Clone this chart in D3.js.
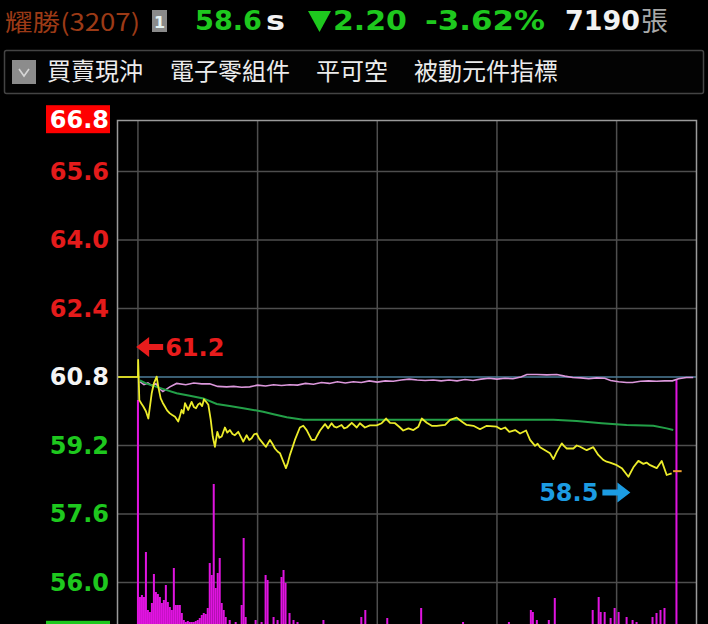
<!DOCTYPE html>
<html><head><meta charset="utf-8">
<script src="https://cdn.jsdelivr.net/npm/d3@7"></script>
<style>body{margin:0;background:#000;overflow:hidden}</style>
</head><body><svg id="c" width="708" height="624"></svg>
<script>
// ---------- data ----------
const stockName = "耀勝(3207)";
const lastPrice = "58.6";
const change = "2.20";
const changePct = "-3.62%";
const volumeTotal = "7190";
const tabs = ["買賣現沖", "電子零組件", "平可空", "被動元件指標"];

const refPrice = 60.8;
const limitUp = 66.8;
const limitDown = 54.8;
const yTicks = [66.8, 65.6, 64.0, 62.4, 60.8, 59.2, 57.6, 56.0];
const gridMinutes = [0, 60, 120, 180, 240];   // 9:00 .. 13:00
const preOpenMinutes = [-10.5, 0];
const preOpenValues = [60.8, 60.8];

const priceMinutes = [0, 0.1, 0.7, 1.7, 2.7, 4.0, 5.2, 6.9, 8.0, 9.4, 10.2, 11.4, 12.4, 13.5, 14.6, 16.0, 17.2, 18.6, 20.2, 21.0, 21.9, 22.8, 23.6, 25.2, 26.0, 26.9, 28.0, 29.1, 30.2, 31.1, 32.2, 33.1, 34.2, 35.3, 36.5, 37.5, 38.0, 38.6, 39.8, 40.8, 42.0, 43.6, 44.8, 46.1, 47.4, 48.6, 50.3, 51.6, 52.8, 54.5, 55.8, 57.0, 58.2, 59.5, 60.8, 62.0, 63.2, 64.2, 66.2, 67.4, 68.7, 70.0, 71.2, 72.9, 74.2, 75.2, 76.2, 77.5, 78.7, 81.2, 82.9, 84.6, 87.1, 88.8, 90.0, 91.3, 93.8, 95.4, 97.1, 98.4, 99.6, 102.1, 103.4, 104.7, 107.2, 109.7, 111.3, 113.8, 116.3, 119.7, 122.2, 124.4, 126.4, 128.9, 131.4, 133.0, 135.6, 138.1, 140.6, 142.3, 144.8, 147.3, 149.8, 154.0, 156.5, 159.8, 162.3, 164.8, 168.2, 171.5, 174.9, 179.9, 182.0, 184.1, 186.2, 189.1, 191.6, 194.6, 196.6, 199.1, 200.4, 201.6, 204.1, 206.6, 208.3, 210.0, 212.5, 213.8, 215.0, 218.3, 220.0, 221.7, 225.0, 228.3, 230.8, 233.4, 235.0, 236.7, 240.1, 242.6, 245.9, 248.4, 250.9, 253.4, 255.0, 256.8, 260.1, 262.6, 265.1, 267.6];
const priceValues = [60.8, 61.2, 60.26, 60.18, 60.11, 60.0, 59.83, 60.42, 60.65, 60.81, 60.57, 60.30, 60.20, 60.11, 60.02, 59.95, 59.91, 59.87, 59.76, 59.88, 60.03, 59.95, 60.19, 60.03, 60.12, 60.22, 60.10, 60.07, 60.16, 60.19, 60.12, 60.28, 60.22, 60.15, 59.80, 59.41, 59.30, 59.17, 59.52, 59.38, 59.41, 59.62, 59.50, 59.56, 59.47, 59.44, 59.52, 59.40, 59.29, 59.44, 59.33, 59.37, 59.46, 59.48, 59.36, 59.29, 59.22, 59.17, 59.33, 59.24, 59.13, 59.06, 59.02, 58.82, 58.67, 58.80, 58.98, 59.16, 59.33, 59.62, 59.66, 59.56, 59.33, 59.33, 59.44, 59.55, 59.70, 59.60, 59.72, 59.64, 59.62, 59.68, 59.60, 59.62, 59.73, 59.62, 59.72, 59.62, 59.67, 59.67, 59.72, 59.83, 59.73, 59.72, 59.62, 59.55, 59.60, 59.56, 59.64, 59.83, 59.73, 59.66, 59.66, 59.68, 59.80, 59.85, 59.76, 59.68, 59.66, 59.58, 59.66, 59.64, 59.58, 59.62, 59.52, 59.56, 59.48, 59.55, 59.33, 59.19, 59.24, 59.16, 59.09, 59.02, 58.88, 59.05, 59.25, 59.18, 59.13, 59.13, 59.20, 59.17, 59.09, 59.16, 58.98, 58.86, 58.82, 58.80, 58.74, 58.67, 58.47, 58.69, 58.84, 58.77, 58.80, 58.74, 58.67, 58.84, 58.51, 58.55];
const closeMinutes = [268.3, 272.6];
const closeValues = [58.6, 58.6];

const vwapMinutes = [1, 4, 9.4, 14, 19.4, 26, 32.8, 39.5, 46, 52.8, 62.8, 68, 74.6, 82.9, 103, 130, 151.5, 180, 208.3, 220, 232.5, 245, 258.4, 265.1, 268.4];
const vwapValues = [60.72, 60.65, 60.57, 60.50, 60.42, 60.36, 60.30, 60.17, 60.12, 60.07, 59.99, 59.93, 59.86, 59.80, 59.80, 59.80, 59.80, 59.80, 59.80, 59.77, 59.72, 59.68, 59.66, 59.60, 59.56];

const pinkMinutes = [1, 3, 5, 7, 9, 11, 12.5, 16, 19.4, 24, 28, 32, 36, 40, 44.5, 48, 52, 56, 60, 64, 68, 72, 76, 80, 84, 88, 92, 96, 100, 104, 108, 112, 116, 120, 124, 128, 132, 136, 140, 144, 148, 152, 156, 160, 164, 168, 172, 176, 180, 184, 188, 192, 195, 200, 205, 210, 214, 218, 222, 226, 230, 234, 237, 241, 245, 248, 252, 256, 260, 264, 268, 271, 275, 278.4];
const pinkValues = [60.69, 60.62, 60.66, 60.60, 60.64, 60.52, 60.46, 60.57, 60.65, 60.62, 60.66, 60.64, 60.64, 60.58, 60.57, 60.58, 60.56, 60.57, 60.61, 60.59, 60.62, 60.60, 60.62, 60.61, 60.65, 60.63, 60.67, 60.65, 60.69, 60.66, 60.69, 60.67, 60.71, 60.68, 60.71, 60.70, 60.73, 60.75, 60.73, 60.72, 60.73, 60.71, 60.73, 60.71, 60.74, 60.72, 60.75, 60.77, 60.75, 60.77, 60.76, 60.80, 60.86, 60.86, 60.85, 60.86, 60.82, 60.79, 60.78, 60.76, 60.78, 60.77, 60.72, 60.69, 60.67, 60.67, 60.70, 60.71, 60.70, 60.71, 60.71, 60.76, 60.79, 60.79];

const volMinutes = [0,1,2,3,4,5,6,7,8,9,10,11,12,13,14,15,16,17,18,19,20,21,22,23,24,25,26,27,28,29,30,31,32,33,34,35,36,37,38,39,40,41,42,43,44,46,49,52,53,54,59,62,64,65,68,70,72,73,74,76,78,80,93,112,114,125,142,163,186,197,198,200,206,209,228,231,232,234,237,239,241,245,248,250,258,260,262,264,270];
const volValues = [480,86,90,86,176,60,56,74,132,96,92,86,74,80,110,76,66,60,144,70,70,70,54,40,36,38,36,36,36,38,40,44,50,54,52,64,154,130,312,104,134,164,74,60,46,40,36,70,204,46,40,36,130,120,46,40,126,140,114,54,40,36,40,46,60,44,64,36,36,60,56,40,40,84,60,86,56,56,44,64,56,46,40,36,46,54,60,64,520];

const highLabel = {minute: 0.1, value: 61.2, text: "61.2"};
const lowLabel = {minute: 245.9, value: 58.5, text: "58.5"};

// ---------- chart ----------
const svg = d3.select("#c");
svg.append("rect").attr("width", 708).attr("height", 624).attr("fill", "#000");

const x = d3.scaleLinear().domain([-10.5, 280.3]).range([117, 697]);
const y = d3.scaleLinear().domain([54.8, 66.8]).range([633.8, 120.2]);
const yV = d3.scaleLinear().domain([0, 520]).range([640, 380]);

// header row 1
const hdr = svg.append("g");
hdr.append("text").attr("x", 5).attr("y", 31).text(stockName)
  .attr("fill", "#9c3a16").attr("font-family", "'Noto Sans CJK TC'").attr("font-size", 24)
  .attr("textLength", 135).attr("lengthAdjust", "spacingAndGlyphs");
hdr.append("rect").attr("x", 152).attr("y", 10).attr("width", 15).attr("height", 22).attr("fill", "#8a8a8a");
hdr.append("text").attr("x", 159.5).attr("y", 28).attr("text-anchor", "middle").text("1")
  .attr("fill", "#e6f4f4").attr("font-family", "DejaVu Sans").attr("font-weight", "bold").attr("font-size", 16);
const big = (t, xx, col, w) => hdr.append("text").attr("x", xx).attr("y", 30).text(t)
  .attr("fill", col).attr("font-family", "DejaVu Sans").attr("font-weight", "bold").attr("font-size", 27)
  .attr("textLength", w).attr("lengthAdjust", "spacingAndGlyphs");
big(lastPrice, 195, "#1ec81e", 67);
big("s", 266, "#f2f2f2", 19);
hdr.append("path").attr("d", "M308,11 L331,11 L319.5,32 Z").attr("fill", "#1ec81e");
big(change, 333, "#1ec81e", 74);
big(changePct, 425, "#1ec81e", 120);
big(volumeTotal, 565, "#f2f2f2", 75);
hdr.append("text").attr("x", 641).attr("y", 31).text("張")
  .attr("fill", "#a8a8a8").attr("font-family", "'Noto Sans CJK TC'").attr("font-size", 27);

// header row 2
svg.append("rect").attr("x", 4.5).attr("y", 50.5).attr("width", 699).attr("height", 43)
  .attr("fill", "#030303").attr("stroke", "#444").attr("stroke-width", 1.5).attr("rx", 2);
svg.append("rect").attr("x", 12).attr("y", 60).attr("width", 24).attr("height", 24).attr("fill", "#8c8c8c");
svg.append("path").attr("d", "M19,69 L24,76 L29,69").attr("fill", "none").attr("stroke", "#d6d6d6").attr("stroke-width", 1.6);
const tabX = [47, 170, 316, 414];
svg.selectAll("text.tab").data(tabs).join("text").attr("class", "tab")
  .attr("x", (d, i) => tabX[i]).attr("y", 80).text(d => d)
  .attr("fill", "#ececec").attr("font-family", "'Noto Sans CJK TC'").attr("font-size", 24);

// grid
const grid = svg.append("g");
grid.selectAll("line.h").data(yTicks.filter(v => v !== limitUp && v !== refPrice)).join("line")
  .attr("x1", 117).attr("x2", 697).attr("y1", d => y(d)).attr("y2", d => y(d))
  .attr("stroke", "#4e4e4e").attr("stroke-width", 1.5);
grid.selectAll("line.v").data(gridMinutes).join("line")
  .attr("x1", d => x(d)).attr("x2", d => x(d)).attr("y1", 120).attr("y2", 624)
  .attr("stroke", "#4e4e4e").attr("stroke-width", 1.5);
grid.append("line").attr("x1", x(0)).attr("x2", 697).attr("y1", y(refPrice)).attr("y2", y(refPrice))
  .attr("stroke", "#4c7c98").attr("stroke-width", 1.5);

// volume bars
const vol = d3.zip(volMinutes, volValues);
svg.append("g").selectAll("rect").data(vol).join("rect")
  .attr("x", d => x(d[0]) - 1).attr("width", 2)
  .attr("y", d => yV(d[1])).attr("height", d => yV(0) - yV(d[1]))
  .attr("fill", "#e014e0");

// lines
const line = d3.line().x(d => x(d[0])).y(d => y(d[1]));
svg.append("path").datum(d3.zip(pinkMinutes, pinkValues)).attr("d", line)
  .attr("fill", "none").attr("stroke", "#dc98dc").attr("stroke-width", 1.6);
svg.append("path").datum(d3.zip(vwapMinutes, vwapValues)).attr("d", line)
  .attr("fill", "none").attr("stroke", "#23a048").attr("stroke-width", 2);
svg.append("path").datum(d3.zip(preOpenMinutes, preOpenValues)).attr("d", line)
  .attr("fill", "none").attr("stroke", "#ecec2a").attr("stroke-width", 1.8);
svg.append("path").datum(d3.zip(priceMinutes, priceValues)).attr("d", line)
  .attr("fill", "none").attr("stroke", "#ecec2a").attr("stroke-width", 1.8).attr("stroke-linejoin", "round");
svg.append("path").datum(d3.zip(closeMinutes, closeValues)).attr("d", line)
  .attr("fill", "none").attr("stroke", "#f0a030").attr("stroke-width", 2);

// frame
svg.append("path").attr("d", "M117.5,624 L117.5,120.5 L696.5,120.5 L696.5,624")
  .attr("fill", "none").attr("stroke", "#9a9a9a").attr("stroke-width", 1.5);

// y axis labels
const tickColor = v => v === limitUp ? "#ffffff" : v > refPrice ? "#e41b1b" : v === refPrice ? "#f4f4f4" : "#1ec81e";
svg.append("rect").attr("x", 46).attr("y", y(limitUp) - 15).attr("width", 64).attr("height", 28).attr("fill", "#ff0000");
svg.append("rect").attr("x", 46).attr("y", y(limitDown) - 13).attr("width", 64).attr("height", 28).attr("fill", "#1ec81e");
const axis = svg.append("g").attr("transform", "translate(109,0)")
  .call(d3.axisLeft(y).tickValues(yTicks).tickSize(0).tickPadding(0).tickFormat(d3.format(".1f")));
axis.select(".domain").remove();
axis.selectAll("text").attr("fill", d => tickColor(d))
  .attr("font-family", "DejaVu Sans").attr("font-weight", "bold").attr("font-size", 24);

// high / low annotations
const hx = x(highLabel.minute) - 2, hy = y(highLabel.value) - 13;
svg.append("path").attr("d", `M${hx},${hy} L${hx + 13},${hy - 10} L${hx + 13},${hy - 3} L${hx + 27},${hy - 3} L${hx + 27},${hy + 3} L${hx + 13},${hy + 3} L${hx + 13},${hy + 10} Z`)
  .attr("fill", "#e81c1c");
svg.append("text").attr("x", hx + 29).attr("y", hy + 9).text(highLabel.text)
  .attr("fill", "#e81c1c").attr("font-family", "DejaVu Sans").attr("font-weight", "bold").attr("font-size", 24);

const lx = x(lowLabel.minute) + 2, ly = y(lowLabel.value) + 17;
svg.append("path").attr("d", `M${lx},${ly} L${lx - 13},${ly - 10} L${lx - 13},${ly - 3} L${lx - 28},${ly - 3} L${lx - 28},${ly + 3} L${lx - 13},${ly + 3} L${lx - 13},${ly + 10} Z`)
  .attr("fill", "#1c9ce2");
svg.append("text").attr("x", lx - 32).attr("y", ly + 9).attr("text-anchor", "end").text(lowLabel.text)
  .attr("fill", "#1c9ce2").attr("font-family", "DejaVu Sans").attr("font-weight", "bold").attr("font-size", 24);
</script>
</body></html>
